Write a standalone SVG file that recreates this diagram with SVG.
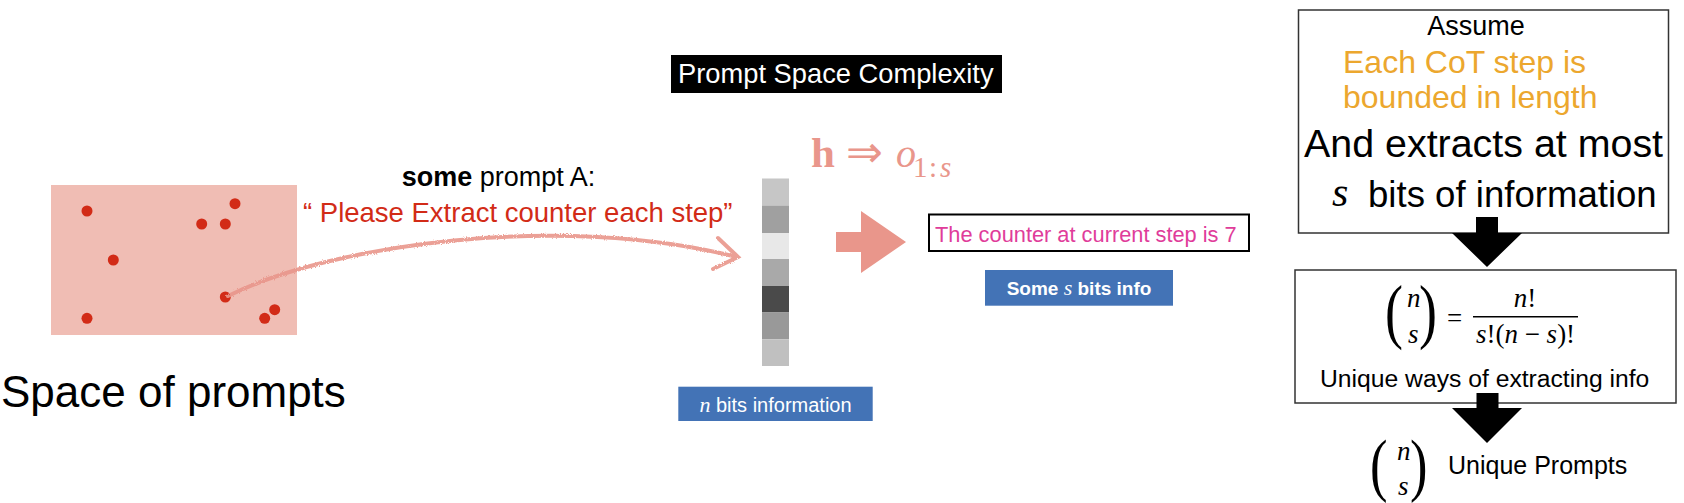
<svg xmlns="http://www.w3.org/2000/svg" width="1684" height="503" viewBox="0 0 1684 503">
<defs>
<style>
.sans{font-family:"Liberation Sans",Arial,sans-serif}
.serif{font-family:"Liberation Serif","Times New Roman",serif}
.it{font-style:italic}
.dot{fill:#d22b17}
.box{fill:#fff;stroke:#333;stroke-width:1.5}
.blue{fill:#4373b6}
.pinkc{fill:#e9968b}
.black{fill:#000}
</style>
<filter id="rough" x="-5%" y="-20%" width="110%" height="140%">
<feTurbulence type="fractalNoise" baseFrequency="0.9" numOctaves="2" seed="3"/>
<feDisplacementMap in="SourceGraphic" scale="3"/>
</filter>
</defs>
<rect width="1684" height="503" fill="#fff"/>

<g id="prompt-space">
<rect x="51" y="185" width="246" height="150" fill="#f0bdb4"/>
<circle class="dot" cx="87" cy="211" r="5.5"/>
<circle class="dot" cx="235" cy="203.7" r="5.5"/>
<circle class="dot" cx="201.7" cy="224" r="5.5"/>
<circle class="dot" cx="225.3" cy="224" r="5.5"/>
<circle class="dot" cx="113.3" cy="260" r="5.5"/>
<circle class="dot" cx="225.3" cy="297" r="5.5"/>
<circle class="dot" cx="87" cy="318.3" r="5.5"/>
<circle class="dot" cx="264.7" cy="318.3" r="5.5"/>
<circle class="dot" cx="274.7" cy="309.7" r="5.5"/>
</g>

<g id="label-space">
<text class="sans" x="1" y="407" font-size="44" fill="#000">Space of prompts</text>
</g>

<g id="prompt-label">
<text class="sans" x="401.7" y="186" font-size="27" fill="#000"><tspan font-weight="bold">some</tspan> prompt A:</text>
<text class="sans" x="303" y="222" font-size="27.5" fill="#d22b17">“ Please Extract counter each step”</text>
</g>

<g id="title">
<rect x="671" y="55" width="331" height="38" fill="#000"/>
<text class="sans" x="678" y="83" font-size="27.3" fill="#fff">Prompt Space Complexity</text>
</g>

<g id="formula-h">
<text class="serif" x="811" y="167" font-size="43" font-weight="bold" fill="#e9968b">h</text>
<text class="serif" x="846" y="167" font-size="44" fill="#e9968b">⇒</text>
<text class="serif it" x="896" y="167" font-size="40" fill="#e9968b">o</text>
<text class="serif" x="913" y="177" font-size="29" fill="#e9968b">1</text>
<text class="serif" x="929" y="177" font-size="29" fill="#e9968b">:</text>
<text class="serif it" x="940" y="177" font-size="29" fill="#e9968b">s</text>
</g>

<g id="bits-column">
<rect x="762" y="178.5" width="27" height="27" fill="#c6c6c6"/>
<rect x="762" y="205.5" width="27" height="27.5" fill="#a0a0a0"/>
<rect x="762" y="233" width="27" height="26" fill="#e8e8e8"/>
<rect x="762" y="259" width="27" height="27" fill="#a9a9a9"/>
<rect x="762" y="286" width="27" height="26.5" fill="#4a4a4a"/>
<rect x="762" y="312.5" width="27" height="26.8" fill="#999999"/>
<rect x="762" y="339.3" width="27" height="26.7" fill="#c0c0c0"/>
</g>

<g id="n-bits-label">
<rect class="blue" x="678.3" y="386.7" width="194.4" height="34.3"/>
<text class="sans" x="775.5" y="412" font-size="20" fill="#fff" text-anchor="middle"><tspan class="serif it" font-size="22">n</tspan> bits information</text>
</g>

<g id="counter-box">
<rect x="929" y="214.5" width="320" height="36.5" fill="#fff" stroke="#000" stroke-width="2"/>
<text class="sans" x="935" y="241.5" font-size="21.8" fill="#e03c9a">The counter at current step is 7</text>
</g>

<g id="s-bits-label">
<rect class="blue" x="985" y="270" width="188" height="35.7"/>
<text class="sans" x="1079" y="295" font-size="19" font-weight="bold" fill="#fff" text-anchor="middle">Some <tspan class="serif it" font-weight="normal" font-size="22">s</tspan> bits info</text>
</g>

<g id="assume-box">
<rect class="box" x="1298.5" y="10" width="370" height="223"/>
<text class="sans" x="1476" y="35" font-size="27" fill="#000" text-anchor="middle">Assume</text>
<text class="sans" x="1343" y="73" font-size="32" fill="#eca72e">Each CoT step is</text>
<text class="sans" x="1343" y="108" font-size="32" fill="#eca72e">bounded in length</text>
<text class="sans" x="1304" y="157" font-size="39.4" fill="#000">And extracts at most</text>
<text class="serif it" x="1332" y="206" font-size="42" fill="#000">s</text>
<text class="sans" x="1368" y="207" font-size="36.6" fill="#000">bits of information</text>
</g>

<g id="ways-box">
<rect class="box" x="1295" y="270" width="381" height="133"/>
<text class="serif" transform="translate(1385,335) scale(0.75,1)" font-size="72" fill="#000">(</text>
<text class="serif it" x="1407" y="307" font-size="27" fill="#000">n</text>
<text class="serif it" x="1408" y="343" font-size="27" fill="#000">s</text>
<text class="serif" transform="translate(1419,335) scale(0.75,1)" font-size="72" fill="#000">)</text>
<text class="serif" x="1447" y="327" font-size="27" fill="#000">=</text>
<line x1="1473" y1="316.7" x2="1578" y2="316.7" stroke="#000" stroke-width="1.5"/>
<text class="serif" x="1525" y="307" font-size="27" fill="#000" text-anchor="middle"><tspan class="it">n</tspan>!</text>
<text class="serif" x="1525.5" y="343" font-size="27" fill="#000" text-anchor="middle"><tspan class="it">s</tspan>!(<tspan class="it">n</tspan> − <tspan class="it">s</tspan>)!</text>
<text class="sans" x="1320" y="387" font-size="24.7" fill="#000">Unique ways of extracting info</text>
</g>

<g id="unique-prompts">
<text class="serif" transform="translate(1370,488) scale(0.75,1)" font-size="70" fill="#000">(</text>
<text class="serif it" x="1397" y="460" font-size="27" fill="#000">n</text>
<text class="serif it" x="1398" y="495" font-size="27" fill="#000">s</text>
<text class="serif" transform="translate(1410,488) scale(0.75,1)" font-size="70" fill="#000">)</text>
<text class="sans" x="1448" y="474" font-size="25" fill="#000">Unique Prompts</text>
</g>

<g id="connectors">
<g filter="url(#rough)" stroke="#e9968b" stroke-width="4" fill="none" stroke-linecap="round" opacity="0.9">
<path d="M228,296 C330,245 560,212 737,257"/>
<path d="M718,238 L738,257 L713,269"/>
</g>
<polygon class="pinkc" points="836,232 861,232 861,211 906,242 861,273 861,252 836,252"/>
<polygon class="black" points="1476,217 1498,217 1498,233 1522,233 1487,267 1452,233 1476,233"/>
<polygon class="black" points="1476.5,393 1498.5,393 1498.5,408 1522,408 1487,443 1452,408 1476.5,408"/>
</g>
</svg>
